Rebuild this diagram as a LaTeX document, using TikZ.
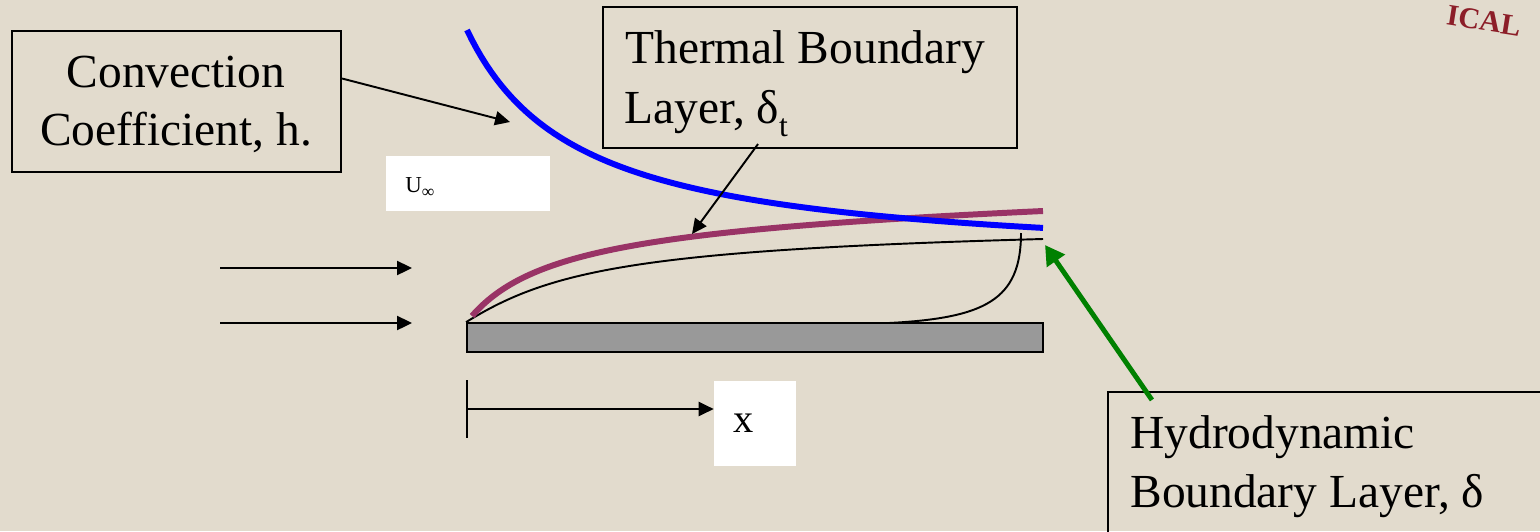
\documentclass[tikz,border=0pt]{standalone}
\usepackage{fontspec}
\setmainfont{Liberation Serif}
\usetikzlibrary{arrows.meta,fit}
\definecolor{bg}{RGB}{226,219,205}
\definecolor{hblue}{RGB}{0,0,255}
\definecolor{tpurple}{RGB}{153,51,102}
\definecolor{dgreen}{RGB}{0,128,0}
\definecolor{gplate}{RGB}{153,153,153}
\definecolor{logored}{RGB}{140,30,40}
\begin{document}
\begin{tikzpicture}[x=0.02cm,y=-0.02cm,
  lbl/.style={font=\fontsize{27}{32}\selectfont, inner sep=0pt, anchor=base west},
  frame/.style={draw=black, line width=1.2pt, inner sep=0pt},
  whitebox/.style={fill=white, draw=none, inner sep=0pt},
  fine/.style={line width=1.1pt},
  arr/.style={line width=1.1pt, -{Triangle[length=8.5pt,width=8pt]}},
  garr/.style={dgreen, line width=2.8pt, -{Triangle[length=11pt,width=12pt]}}]
\useasboundingbox (0,0) rectangle (1540,531);
\clip (0,0) rectangle (1540,531);
\fill[bg] (0,0) rectangle (1540,531);

% logo fragment
\node[font=\bfseries\fontsize{17}{17}\selectfont, text=logored, rotate=-9, inner sep=0pt] (logo) at (1484,21) {ICAL};

% boxes
\node[frame, fit={(12,31) (341,172)}] (conv) {};
\node[frame, fit={(603,7) (1017,148)}] (therm) {};
\node[frame, fit={(1108,392) (1600,600)}] (hydro) {};
\node[whitebox, fit={(386,156) (550,211)}] (ubox) {};
\node[whitebox, fit={(714,381) (796,466)}] (xbox) {};

% texts
\node[lbl, anchor=base] (conv1) at (176,87) {Convection};
\node[lbl, anchor=base] (conv2) at (176,145) {Coefficient, h.};
\node[lbl] (therm1) at (625,63) {Thermal Boundary};
\node[lbl] (therm2) at (624,123) {Layer, δ\raisebox{-7.5pt}{\fontsize{18}{18}\selectfont t}};
\node[lbl] (hydro1) at (1130,448) {Hydrodynamic};
\node[lbl] (hydro2) at (1130,507) {Boundary Layer, δ};
\node[inner sep=0pt, anchor=base west, font=\fontsize{13}{13}\selectfont] (ulbl) at (405,192) {U\raisebox{-3pt}{\fontsize{10}{10}\selectfont ∞}};
\node[inner sep=0pt, anchor=base west, font=\fontsize{23}{23}\selectfont] (xlbl) at (733,432) {x};

% plate
\node[fill=gplate, draw=black, line width=1pt, inner sep=0pt, fit={(467,323) (1043,352)}] (plate) {};

% curves
\draw[fine] (plate.north west) .. controls (550,270) and (640,250) .. (1043,239);
\draw[fine] (889,323) .. controls (985,318) and (1021,300) .. (1021,233);
\draw[tpurple, line width=3.4pt] (472,316) .. controls (528,252) and (640,230) .. (1043,211);
\draw[hblue, line width=3.4pt] plot[domain=0:576, samples=120, variable=\t] ({467+\t}, {266.4-236.4/(1+\t/112)});

% coordinates for free ends
\coordinate (hpt) at (510,122);
\coordinate (tpt) at (692,234);
\coordinate (dpt) at (1045,245);
\coordinate (f1s) at (220,268);
\coordinate (f1e) at (412,268);
\coordinate (f2s) at (220,323);
\coordinate (f2e) at (412,323);
\coordinate (xt1) at (467,380);
\coordinate (xt2) at (467,438);
\coordinate (xorg) at (467,409);

% connectors
\draw[arr] ([yshift=0.46cm]conv.east) -- (hpt);
\draw[arr] ([xshift=-1.04cm,yshift=0.1cm]therm.south) -- (tpt);
\draw[garr] ([xshift=0.9cm,yshift=-0.18cm]hydro.north west) -- (dpt);
\draw[arr] (f1s) -- (f1e);
\draw[arr] (f2s) -- (f2e);
\draw[fine] (xt1) -- (xt2);
\draw[arr] (xorg) -- (xorg -| xbox.west);
\end{tikzpicture}
\end{document}
